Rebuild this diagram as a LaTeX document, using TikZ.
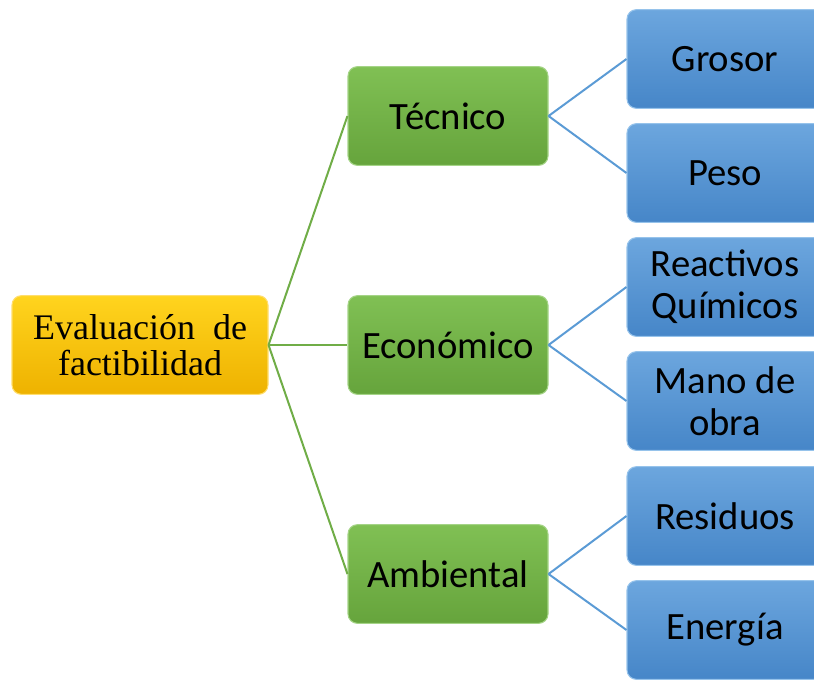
\documentclass[tikz,border=0pt]{standalone}
\usepackage{fontspec}
\setmainfont{Carlito}
\newfontfamily\serifx{Liberation Serif}
\definecolor{ylwT}{RGB}{255,212,30}
\definecolor{ylwB}{RGB}{238,178,0}
\definecolor{ylwD}{RGB}{255,222,110}
\definecolor{grnT}{RGB}{128,192,84}
\definecolor{grnB}{RGB}{102,164,60}
\definecolor{grnD}{RGB}{165,212,135}
\definecolor{bluT}{RGB}{108,166,222}
\definecolor{bluB}{RGB}{70,134,200}
\definecolor{bluD}{RGB}{150,195,235}
\definecolor{glink}{RGB}{112,173,71}
\definecolor{blink}{RGB}{91,155,213}
\tikzset{
  boxbase/.style={rectangle, rounded corners=7pt, line width=0.8pt, align=center, text=black, inner sep=0pt},
  rootbox/.style={boxbase, minimum width=192pt, minimum height=74pt, top color=ylwT, bottom color=ylwB, draw=ylwD, font=\serifx\fontsize{27}{27.5}\selectfont},
  midbox/.style={boxbase, minimum width=150pt, minimum height=74pt, top color=grnT, bottom color=grnB, draw=grnD, font=\fontsize{29}{30}\selectfont},
  leafbox/.style={boxbase, minimum width=147pt, minimum height=74pt, top color=bluT, bottom color=bluB, draw=bluD, font=\fontsize{29}{31.5}\selectfont},
  glinkst/.style={draw=glink, line width=1.5pt},
  blinkst/.style={draw=blink, line width=1.5pt}
}
\begin{document}
\begin{tikzpicture}[x=0.75pt,y=-0.75pt]
\useasboundingbox (0,0) rectangle (814,679);
\clip (0,0) rectangle (814,679);
\node[rootbox] (root) at (140,345) {Evaluación\ \ de\\factibilidad};
\node[midbox] (tec) at (448,116) {Técnico};
\node[midbox] (eco) at (448,345) {Económico};
\node[midbox] (amb) at (448,574) {Ambiental};
\node[leafbox] (gro) at (725,59) {Grosor};
\node[leafbox] (pes) at (725,173) {Peso};
\node[leafbox] (rea) at (725,287) {Reactivos\\Químicos};
\node[leafbox] (man) at (725,401) {Mano de\\obra};
\node[leafbox] (res) at (725,516) {Residuos};
\node[leafbox] (ene) at (725,630) {Energía};
\draw[glinkst] (root.east) -- (tec.west);
\draw[glinkst] (root.east) -- (eco.west);
\draw[glinkst] (root.east) -- (amb.west);
\draw[blinkst] (tec.east) -- (gro.west);
\draw[blinkst] (tec.east) -- (pes.west);
\draw[blinkst] (eco.east) -- (rea.west);
\draw[blinkst] (eco.east) -- (man.west);
\draw[blinkst] (amb.east) -- (res.west);
\draw[blinkst] (amb.east) -- (ene.west);
\end{tikzpicture}
\end{document}
